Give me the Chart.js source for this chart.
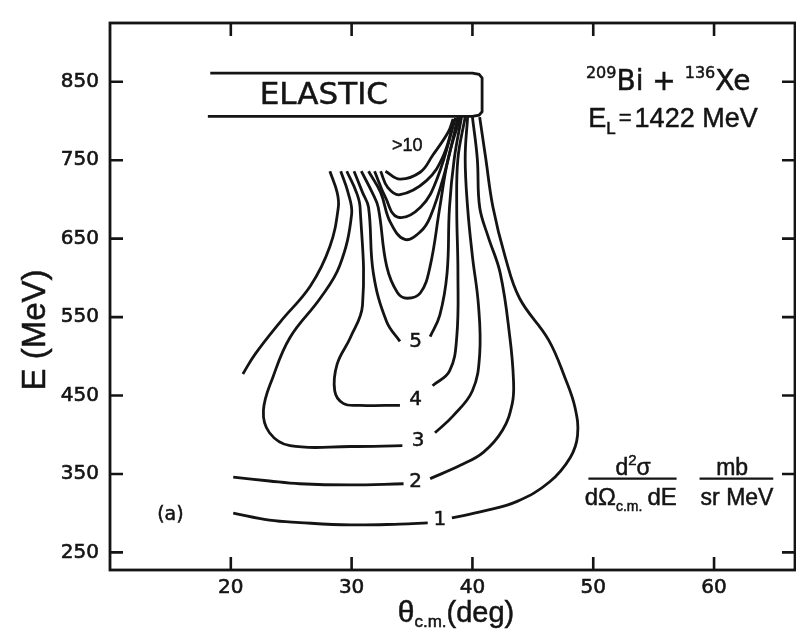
<!DOCTYPE html>
<html>
<head>
<meta charset="utf-8">
<script src="https://cdn.jsdelivr.net/npm/chart.js@4.4.1/dist/chart.umd.min.js"></script>
<style>
  html, body { margin: 0; padding: 0; background: #fff; }
  canvas { display: block; }
</style>
</head>
<body>
<canvas id="chart" width="796" height="636"></canvas>
<script>
// Axis ticks
const xTicks = [20, 30, 40, 50, 60];
const yTicks = [250, 350, 450, 550, 650, 750, 850];

// Contours of d2σ/dΩc.m.dE (mb/sr MeV); points are [θc.m. (deg), E (MeV)]
const contour1Left  = [[20.2,300],[23.2,291],[25.7,288],[29.9,285],[34.0,286],[36.3,287.5]];
const contour1Right = [[38.3,294],[40.9,302.5],[43.7,315],[46.4,340],[48.1,371],[48.7,399],[48.5,434],[47.7,471],[46.3,521],[43.9,574],[42.7,627.5],[41.7,690],[41.1,752.5],[40.6,805]];
const contour2Arc   = [[28.2,736],[28.8,709],[28.9,690],[28.2,640],[26.6,590],[24.1,544],[22.0,502.5],[21.0,477.5]];
const contour2Left  = [[20.2,346],[23.2,341],[25.7,337.5],[29.9,336],[34.3,337.5]];
const contour2Right = [[36.5,344],[39.0,361],[40.9,377.5],[42.5,406],[43.3,440],[43.4,469],[43.1,524],[42.3,606],[41.3,652.5],[40.6,690],[40.4,752.5],[40.0,805]];
const contour3Left  = [[29.1,736],[29.7,709],[30.0,681],[29.0,615],[27.4,574],[24.9,524],[23.5,474],[22.7,431],[23.2,402.5],[24.9,386],[29.9,385],[34.2,386]];
const contour3Right = [[36.9,402.5],[38.4,424],[40.0,456],[40.6,502.5],[40.5,565],[40.0,627.5],[39.6,690],[39.4,752.5],[39.6,805]];
const contour4Left  = [[29.6,736],[30.4,709],[30.7,690],[30.9,565],[29.9,524],[28.8,490],[28.6,456],[29.3,440],[30.7,437.5],[34.0,437.5]];
const contour4Right = [[36.7,462.5],[38.1,481],[38.7,524],[38.8,606],[38.7,690],[38.8,752.5],[39.4,805]];
const contour5Left  = [[30.2,736],[30.9,709],[31.4,690],[31.8,606],[32.9,544],[34.0,519]];
const contour5Right = [[36.5,525],[37.3,552.5],[37.9,606],[38.1,690],[38.5,752.5],[39.1,805]];
const contour6      = [[30.8,736],[31.7,709],[32.2,690],[32.9,615],[33.8,581],[34.6,574],[35.7,581],[36.5,615],[37.3,690],[38.0,752.5],[39.0,805]];
const contour7      = [[31.4,736],[32.4,709],[33.2,671],[34.4,649],[35.7,659],[36.5,677.5],[37.7,734],[38.8,805]];
const contour8      = [[31.9,736],[32.8,702.5],[33.8,677.5],[35.7,690],[37.1,727.5],[38.6,804]];
const contour9      = [[32.4,736],[33.0,715],[34.0,706],[36.2,724],[37.6,756],[38.5,802.5]];
const contour10     = [[32.8,736],[34.0,726],[35.7,735],[36.7,756],[38.0,786],[38.4,802.5]];

// Elastic band outline
const elasticBand = [[18.3,861],[40.0,861],[40.55,859.5],[40.8,855],[40.8,812],[40.55,807.5],[40.0,806],[18.1,806]];

// Contour level labels
const levelText = ['1', '2', '3', '4', '5', '>10'];
const levelX    = [37.3, 35.3, 35.5, 35.3, 35.3, 34.6];
const levelY    = [291, 340, 392.5, 444, 519, 767.5];

const INK = '#141414';
const SANS = '"Liberation Sans", Arial, sans-serif';
const WIDE = '"DejaVu Sans", sans-serif';

function pts(a) { return a.map(p => ({ x: p[0], y: p[1] })); }

const curves = [contour1Left, contour1Right, contour2Arc, contour2Left, contour2Right,
  contour3Left, contour3Right, contour4Left, contour4Right, contour5Left, contour5Right,
  contour6, contour7, contour8, contour9, contour10];

const datasets = curves.map(c => ({
  data: pts(c), showLine: true, pointRadius: 0, borderColor: INK,
  borderWidth: 2.8, tension: 0.4, fill: false
}));
datasets.push({
  data: pts(elasticBand), showLine: true, pointRadius: 0, borderColor: INK,
  borderWidth: 2.8, tension: 0, fill: false
});

// Draw a run of text pieces with individual font, size and vertical offset
function rich(ctx, parts, x, y, align) {
  let w = 0;
  parts.forEach(p => {
    ctx.font = p.size + 'px ' + (p.f || SANS);
    p.w = ctx.measureText(p.t).width;
    w += p.w + (p.gap || 0);
  });
  let cx = align === 'center' ? x - w / 2 : (align === 'right' ? x - w : x);
  ctx.textAlign = 'left';
  ctx.textBaseline = 'alphabetic';
  parts.forEach(p => {
    ctx.font = p.size + 'px ' + (p.f || SANS);
    ctx.fillText(p.t, cx, y + (p.dy || 0));
    ctx.lineWidth = 0.5;
    ctx.strokeText(p.t, cx, y + (p.dy || 0));
    cx += p.w + (p.gap || 0);
  });
}

function label(ctx, t, x, y, font) {
  ctx.font = font;
  ctx.fillText(t, x, y);
  ctx.lineWidth = 0.5;
  ctx.strokeText(t, x, y);
}

const framePlugin = {
  id: 'frame',
  afterDraw(chart) {
    const { ctx, chartArea: a, scales: { x, y } } = chart;
    ctx.save();
    ctx.strokeStyle = INK;
    ctx.lineWidth = 2.8;
    ctx.strokeRect(a.left, a.top, a.right - a.left, a.bottom - a.top);
    const L = 13;
    ctx.lineWidth = 2.6;
    ctx.beginPath();
    xTicks.forEach(v => {
      const px = x.getPixelForValue(v);
      ctx.moveTo(px, a.bottom); ctx.lineTo(px, a.bottom - L);
      ctx.moveTo(px, a.top); ctx.lineTo(px, a.top + L);
    });
    yTicks.forEach(v => {
      const py = y.getPixelForValue(v);
      ctx.moveTo(a.left, py); ctx.lineTo(a.left + L, py);
      ctx.moveTo(a.right, py); ctx.lineTo(a.right - L, py);
    });
    ctx.stroke();

    ctx.fillStyle = INK;
    const X = v => x.getPixelForValue(v), Y = v => y.getPixelForValue(v);

    // band label
    ctx.textAlign = 'center';
    ctx.textBaseline = 'middle';
    label(ctx, 'ELASTIC', X(27.7), Y(832.5), '31px ' + WIDE);

    // level labels
    levelText.forEach((t, i) => {
      label(ctx, t, X(levelX[i]), Y(levelY[i]), t.length > 1 ? '18px ' + SANS : '20px ' + WIDE);
    });

    label(ctx, '(a)', X(15.0), Y(297.5), '19px ' + WIDE);

    // reaction
    rich(ctx, [
      { t: '209', size: 16, dy: -12, f: WIDE }, { t: 'Bi + ', size: 28, f: WIDE },
      { t: '136', size: 16, dy: -12, f: WIDE }, { t: 'Xe', size: 28, f: WIDE }
    ], X(56.2), Y(840), 'center');
    rich(ctx, [
      { t: 'E', size: 27 }, { t: 'L', size: 17, dy: 7, gap: 3 }, { t: '=', size: 22, dy: -2, gap: 3 },
      { t: '1422 MeV', size: 27 }
    ], X(56.6), Y(792.5), 'center');

    // units
    rich(ctx, [{ t: 'd', size: 23 }, { t: '2', size: 15, dy: -10 }, { t: 'σ', size: 23 }], X(53.3), Y(349), 'center');
    rich(ctx, [{ t: 'dΩ', size: 24 }, { t: 'c.m.', size: 14, dy: 6, gap: 5 }, { t: 'dE', size: 24 }], X(53.1), Y(311), 'center');
    rich(ctx, [{ t: 'mb', size: 23 }], X(61.5), Y(349), 'center');
    rich(ctx, [{ t: 'sr MeV', size: 23 }], X(61.9), Y(311), 'center');
    ctx.lineWidth = 2.2;
    ctx.beginPath();
    ctx.moveTo(X(49.6), Y(344)); ctx.lineTo(X(56.9), Y(344));
    ctx.moveTo(X(58.8), Y(344)); ctx.lineTo(X(64.9), Y(344));
    ctx.stroke();

    // axis titles
    rich(ctx, [{ t: 'θ', size: 30 }, { t: 'c.m.', size: 17, dy: 5 }, { t: '(deg)', size: 29 }], 456, 622, 'center');
    ctx.save();
    ctx.translate(45, 330);
    ctx.rotate(-Math.PI / 2);
    ctx.textAlign = 'center';
    ctx.textBaseline = 'alphabetic';
    label(ctx, 'E (MeV)', 0, 0, '33px ' + SANS);
    ctx.restore();
    ctx.restore();
  }
};

new Chart(document.getElementById('chart'), {
  type: 'scatter',
  data: { datasets },
  options: {
    responsive: false,
    animation: false,
    layout: { padding: { top: 12, right: 1, left: 0, bottom: 0 } },
    plugins: { legend: { display: false }, tooltip: { enabled: false } },
    scales: {
      x: {
        type: 'linear', min: 10, max: 66.7,
        grid: { display: false, drawTicks: false },
        border: { display: false },
        afterBuildTicks: s => { s.ticks = xTicks.map(v => ({ value: v })); },
        afterFit: s => { s.height = 66; },
        ticks: { color: INK, font: { family: WIDE, size: 20 }, padding: 6, textStrokeColor: INK, textStrokeWidth: 0.6 }
      },
      y: {
        type: 'linear', min: 227.5, max: 925,
        grid: { display: false, drawTicks: false },
        border: { display: false },
        afterBuildTicks: s => { s.ticks = yTicks.map(v => ({ value: v })); },
        afterFit: s => { s.width = 110; },
        ticks: { color: INK, font: { family: WIDE, size: 20 }, padding: 11, textStrokeColor: INK, textStrokeWidth: 0.6 }
      }
    }
  },
  plugins: [framePlugin]
});
</script>
</body>
</html>
